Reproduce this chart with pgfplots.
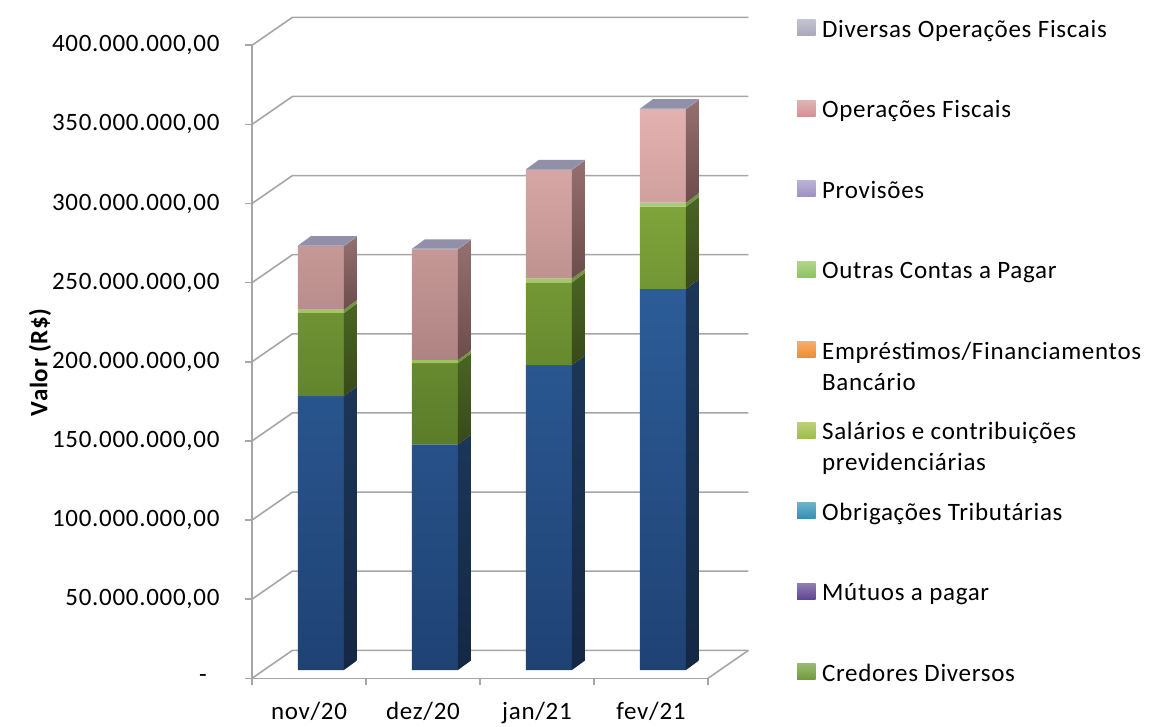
\documentclass[border=0pt]{standalone}
\usepackage{fontspec}
\setmainfont{Carlito}[LetterSpace=2.8]
\usepackage{pgfplots}
\usepackage{pgfplotstable}
\pgfplotsset{compat=1.18}

% walls and axis lines
\definecolor{grade}{HTML}{A6A6A6}
% bar faces (front top/bottom, side top/bottom)
\definecolor{azulA}{HTML}{2C5C97}\definecolor{azulB}{HTML}{1F4274}
\definecolor{azulC}{HTML}{1C3658}\definecolor{azulD}{HTML}{142844}
\definecolor{verdeA}{HTML}{7FA43A}\definecolor{verdeB}{HTML}{5B7C2A}
\definecolor{verdeC}{HTML}{4A6522}\definecolor{verdeD}{HTML}{37491A}
\definecolor{claroA}{HTML}{A8CE6C}\definecolor{claroB}{HTML}{9CC262}
\definecolor{claroC}{HTML}{78994A}\definecolor{claroD}{HTML}{6E8E42}
\definecolor{rosaA}{HTML}{E3B1B0}\definecolor{rosaB}{HTML}{AE8482}
\definecolor{rosaC}{HTML}{957070}\definecolor{rosaD}{HTML}{6C4C4C}
\definecolor{topo}{HTML}{9190A8}
% legend keys
\definecolor{lDiv}{HTML}{A9A8BC}
\definecolor{lOpe}{HTML}{D39292}
\definecolor{lPro}{HTML}{9D90C4}
\definecolor{lOut}{HTML}{8FC35F}
\definecolor{lEmp}{HTML}{F28A2A}
\definecolor{lSal}{HTML}{9DBD42}
\definecolor{lObr}{HTML}{2F90B2}
\definecolor{lMut}{HTML}{604592}
\definecolor{lCre}{HTML}{6F9A36}

% values in millions of R$ per month (stacked from the bottom)
\pgfplotstableread{
mes cred sal outras oper div
0 173.1 52.5 2.2 40.0 0.4
1 142.6 51.4 1.9 69.9 0.4
2 192.7 52.2 2.5 68.6 0.4
3 240.8 52.0 2.5 59.0 0.4
}\dados

% bar geometry (axis units)
\def\meia{0.2018}% half bar width
\def\px{0.114}% depth of a bar, x
\def\py{6.0}% depth of a bar, y

% side face of one stacked segment: #1,#2 colours, #3 lower, #4 upper value
\newcommand\lateral[4]{%
  \pgfmathsetmacro\la{#3}\pgfmathsetmacro\lb{#3+\py}%
  \pgfmathsetmacro\ha{#4}\pgfmathsetmacro\hb{#4+\py}%
  \addplot[draw=none, top color=#1, bottom color=#2, forget plot]
    coordinates {(\xr,\la) (\xs,\lb) (\xs,\hb) (\xr,\ha)} -- cycle;}

\newcommand\ent[1]{\rule[-6pt]{0pt}{24pt}#1}
\newcommand\entt[2]{\rule[-6pt]{0pt}{24pt}\smash{\vtop{\baselineskip=31pt\hbox{#1}\hbox{#2}}}}

\begin{document}
\begin{tikzpicture}
\useasboundingbox (0,0) rectangle (1149pt,726pt);
\begin{axis}[
  at={(252pt,47.7pt)}, anchor=south west,
  width=456pt, height=633pt, scale only axis,
  xmin=-0.605, xmax=3.395,
  ymin=-5.24, ymax=394.76,
  clip=false,
  axis lines=left,
  axis line style={-, grade, line width=1.6pt},
  tick style={grade, line width=1.6pt},
  tick align=outside,
  major tick length=7pt,
  xtick={-0.605,0.395,1.395,2.395,3.395},
  xticklabels={},
  extra x ticks={-0.105,0.895,1.895,2.895},
  extra x tick labels={nov/20,dez/20,jan/21,fev/21},
  extra x tick style={major tick length=0pt},
  ytick={-5.24,44.76,94.76,144.76,194.76,244.76,294.76,344.76,394.76},
  yticklabels={-\hphantom{0},50.000.000{,}00,100.000.000{,}00,150.000.000{,}00,
    200.000.000{,}00,250.000.000{,}00,300.000.000{,}00,350.000.000{,}00,400.000.000{,}00},
  ticklabel style={font=\fontsize{25}{30}\selectfont, text=black},
  yticklabel style={xshift=-22pt},
  xticklabel style={yshift=-20pt},
  ylabel={\textbf{Valor (R\$)}},
  ylabel style={font=\fontsize{25}{30}\selectfont, at={(axis description cs:-0.465,0.5)}, anchor=center},
  legend image code/.code={\path[draw=none,#1] (0pt,-7pt) rectangle (18.5pt,9pt);},
  legend cell align=left,
  legend style={draw=none, fill=none, inner sep=0pt,
    at={(axis description cs:1.195,1.0415)}, anchor=north west,
    font=\fontsize{25}{30}\selectfont,
    nodes={inner sep=0pt}, column sep=6.5pt, row sep=61pt},
]
% back wall and floor
\pgfplotsinvokeforeach{0,...,8}{
  \pgfmathsetmacro\yf{-5.24+50*#1}
  \pgfmathsetmacro\yb{12.45+50*#1}
  \addplot[grade, line width=1.6pt, forget plot]
    coordinates {(-0.605,\yf) (-0.25,\yb) (3.75,\yb)};
}
\addplot[grade, line width=1.6pt, forget plot]
  coordinates {(3.75,12.45) (3.395,-5.24)};

% front faces of the stacked bars
\addplot[ybar, stack plots=y, bar width=0.4035, bar shift=0pt, draw=none,
  top color=azulA, bottom color=azulB, forget plot] table[x=mes, y=cred]{\dados};
\addplot[ybar, stack plots=y, bar width=0.4035, bar shift=0pt, draw=none,
  top color=verdeA, bottom color=verdeB, forget plot] table[x=mes, y=sal]{\dados};
\addplot[ybar, stack plots=y, bar width=0.4035, bar shift=0pt, draw=none,
  top color=claroA, bottom color=claroB, forget plot] table[x=mes, y=outras]{\dados};
\addplot[ybar, stack plots=y, bar width=0.4035, bar shift=0pt, draw=none,
  top color=rosaA, bottom color=rosaB, forget plot] table[x=mes, y=oper]{\dados};
\addplot[ybar, stack plots=y, bar width=0.4035, bar shift=0pt, draw=none,
  fill=topo, forget plot] table[x=mes, y=div]{\dados};

% side and top faces
\pgfplotsinvokeforeach{0,1,2,3}{
  \pgfplotstablegetelem{#1}{cred}\of\dados \pgfmathsetmacro\ya{\pgfplotsretval}
  \pgfplotstablegetelem{#1}{sal}\of\dados \pgfmathsetmacro\yb{\ya+\pgfplotsretval}
  \pgfplotstablegetelem{#1}{outras}\of\dados \pgfmathsetmacro\yc{\yb+\pgfplotsretval}
  \pgfplotstablegetelem{#1}{oper}\of\dados \pgfmathsetmacro\yd{\yc+\pgfplotsretval}
  \pgfplotstablegetelem{#1}{div}\of\dados \pgfmathsetmacro\ye{\yd+\pgfplotsretval}
  \pgfmathsetmacro\xl{#1-\meia}
  \pgfmathsetmacro\xr{#1+\meia}
  \pgfmathsetmacro\xs{#1+\meia+\px}
  \pgfmathsetmacro\xt{#1-\meia+\px}
  \lateral{azulC}{azulD}{0}{\ya}
  \lateral{verdeC}{verdeD}{\ya}{\yb}
  \lateral{claroC}{claroD}{\yb}{\yc}
  \lateral{rosaC}{rosaD}{\yc}{\yd}
  \lateral{topo}{topo}{\yd}{\ye}
  \pgfmathsetmacro\yt{\ye+\py}
  \addplot[draw=none, fill=topo, forget plot]
    coordinates {(\xl,\ye) (\xr,\ye) (\xs,\yt) (\xt,\yt)} -- cycle;
}

% legend
\addlegendimage{top color=lDiv!70!white, bottom color=lDiv}
\addlegendentry{\ent{Diversas Operações Fiscais}}
\addlegendimage{top color=lOpe!70!white, bottom color=lOpe}
\addlegendentry{\ent{Operações Fiscais}}
\addlegendimage{top color=lPro!70!white, bottom color=lPro}
\addlegendentry{\ent{Provisões}}
\addlegendimage{top color=lOut!70!white, bottom color=lOut}
\addlegendentry{\ent{Outras Contas a Pagar}}
\addlegendimage{top color=lEmp!70!white, bottom color=lEmp}
\addlegendentry{\entt{Empréstimos/Financiamentos}{Bancário}}
\addlegendimage{top color=lSal!70!white, bottom color=lSal}
\addlegendentry{\entt{Salários e contribuições}{previdenciárias}}
\addlegendimage{top color=lObr!70!white, bottom color=lObr}
\addlegendentry{\ent{Obrigações Tributárias}}
\addlegendimage{top color=lMut!70!white, bottom color=lMut}
\addlegendentry{\ent{Mútuos a pagar}}
\addlegendimage{top color=lCre!70!white, bottom color=lCre}
\addlegendentry{\ent{Credores Diversos}}
\end{axis}
\end{tikzpicture}
\end{document}
